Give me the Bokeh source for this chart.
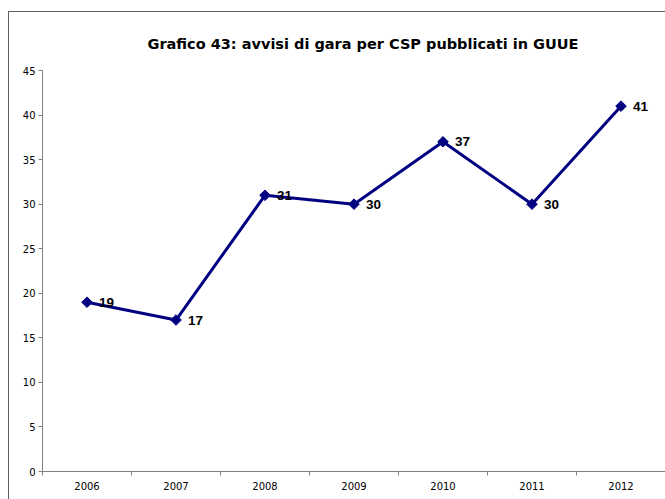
import math
from bokeh.plotting import figure
from bokeh.models import Range1d, FixedTicker, ColumnDataSource, InlineStyleSheet
from bokeh.embed import file_html
from bokeh.resources import INLINE

years = [2006, 2007, 2008, 2009, 2010, 2011, 2012]
counts = [19, 17, 31, 30, 37, 30, 41]
point_labels = [str(c) for c in counts]
y_ticks = [0, 5, 10, 15, 20, 25, 30, 35, 40, 45]
title_text = "Grafico 43: avvisi di gara per CSP pubblicati in GUUE"

src = ColumnDataSource(dict(x=years, y=counts, lab=point_labels))

p = figure(width=665, height=499, output_backend="svg", toolbar_location=None,
           x_range=Range1d(years[0] - 0.5, years[-1] + 0.5), y_range=Range1d(0, 45),
           min_border_left=42, min_border_right=0, min_border_top=70, min_border_bottom=28)

p.stylesheets = [InlineStyleSheet(css="""
:host { position: relative; }
:host::after { content: ""; position: absolute; left: 8px; top: 11px; right: 0px; bottom: 0px;
  border-left: 1px solid #606060; border-top: 1px solid #606060; pointer-events: none; }
""")]

p.title.text = title_text
p.title.align = "left"
p.title.offset = 105
p.title.text_font = "DejaVu Sans"
p.title.text_font_style = "bold"
p.title.text_font_size = "14.5px"
p.title.text_color = "#000000"
p.title.standoff = 38

p.outline_line_color = None
p.xgrid.grid_line_color = None
p.ygrid.grid_line_color = None

p.line("x", "y", source=src, line_color="#000080", line_width=3)
p.scatter("x", "y", source=src, marker="square", angle=math.pi / 4, size=7.5,
          fill_color="#000080", line_color="#000080")
p.text("x", "y", text="lab", source=src, x_offset=12, text_baseline="middle", text_align="left",
       text_font_size="13.5px", text_font_style="bold", text_color="#000000")

xa = p.xaxis[0]
xa.ticker = FixedTicker(ticks=years, minor_ticks=[y - 0.5 for y in years] + [years[-1] + 0.5])
xa.major_tick_line_color = None
xa.major_tick_out = 0
xa.major_tick_in = 0
xa.minor_tick_out = 4
xa.minor_tick_in = 0
xa.minor_tick_line_color = "#808080"
xa.axis_line_color = "#808080"
xa.major_label_standoff = 6
xa.major_label_text_font = "DejaVu Sans"
xa.major_label_text_font_size = "10px"
xa.major_label_text_color = "#000000"

ya = p.yaxis[0]
ya.ticker = FixedTicker(ticks=y_ticks)
ya.minor_tick_line_color = None
ya.major_tick_out = 4
ya.major_tick_in = 0
ya.major_tick_line_color = "#808080"
ya.axis_line_color = "#808080"
ya.major_label_standoff = 3
ya.major_label_text_font = "DejaVu Sans"
ya.major_label_text_font_size = "10px"
ya.major_label_text_color = "#000000"

open("out.html", "w").write(file_html(p, INLINE))
